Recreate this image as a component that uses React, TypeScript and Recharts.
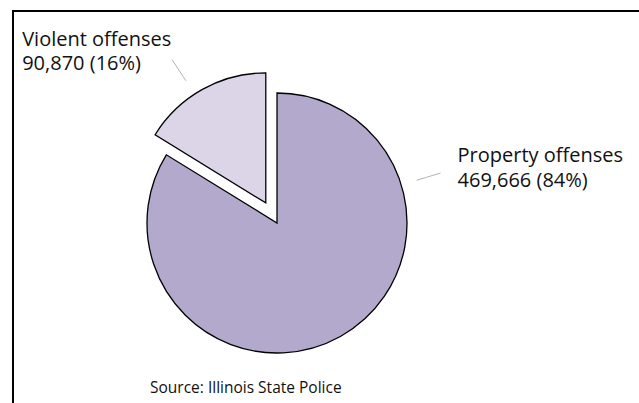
import React from 'react';
import { PieChart, Pie, Sector } from 'recharts';

const categories = ['Violent offenses', 'Property offenses'];
const offenseCounts = [90870, 469666];
const sliceColors = ['#dcd5e7', '#b3a9cc'];

const chartData = categories.map((name, i) => ({
  name,
  value: offenseCounts[i],
  fill: sliceColors[i],
  exploded: i === 0
}));

const RAD = Math.PI / 180;
const EXPLODE = 23;
const FONT = '"Open Sans", "Noto Sans", sans-serif';

const renderSlice = (props: any) => {
  const { cx, cy, midAngle, payload } = props;
  const off = payload && payload.exploded ? EXPLODE : 0;
  return (
    <Sector
      {...props}
      cx={cx + off * Math.cos(-midAngle * RAD)}
      cy={cy + off * Math.sin(-midAngle * RAD)}
      stroke="#000"
      strokeWidth={1.3}
    />
  );
};

const renderLabel = (props: any) => {
  const { cx, cy, midAngle, outerRadius, payload, percent, value, name } = props;
  const exploded = payload && payload.exploded;
  const off = exploded ? EXPLODE : 0;
  const ox = cx + off * Math.cos(-midAngle * RAD);
  const oy = cy + off * Math.sin(-midAngle * RAD);
  // property label sits up to the right instead of at its mid angle
  const ang = exploded ? midAngle + 4 : 17;
  const x1 = ox + (outerRadius + 16) * Math.cos(-ang * RAD);
  const y1 = oy + (outerRadius + 16) * Math.sin(-ang * RAD);
  const x2 = ox + (outerRadius + 41) * Math.cos(-ang * RAD);
  const y2 = oy + (outerRadius + 41) * Math.sin(-ang * RAD);
  const tx = exploded ? x2 - 150 : x2 + 17;
  const ty = exploded ? y2 - 14 : y2 - 11;
  const line2 = `${value.toLocaleString('en-US')} (${Math.round(percent * 100)}%)`;
  return (
    <g>
      <line x1={x1} y1={y1} x2={x2} y2={y2} stroke="#a0a0a0" strokeWidth={0.8} />
      <text x={tx} y={ty} fontSize={20} fontFamily={FONT} fill="#111" textAnchor="start">
        <tspan x={tx} dy={0}>{name}</tspan>
        <tspan x={tx} dy={24.5}>{line2}</tspan>
      </text>
    </g>
  );
};

const App: React.FC = () => {
  return (
    <div style={{ position: 'absolute', left: 0, top: 0, width: 639, height: 403, background: '#fff' }}>
      <div
        style={{
          position: 'absolute',
          left: 12,
          top: 10,
          right: 0,
          bottom: 0,
          borderTop: '2px solid #000',
          borderLeft: '2px solid #000'
        }}
      />
      <PieChart width={639} height={403} style={{ position: 'absolute', left: 0, top: 0 }}>
        <Pie
          data={chartData}
          dataKey="value"
          nameKey="name"
          cx={272}
          cy={218}
          outerRadius={130}
          startAngle={90}
          endAngle={450}
          shape={renderSlice}
          label={renderLabel}
          labelLine={false}
          isAnimationActive={false}
        />
      </PieChart>
      <div
        style={{
          position: 'absolute',
          left: 150,
          top: 376,
          fontFamily: FONT,
          fontSize: 15.5,
          color: '#111',
          whiteSpace: 'nowrap'
        }}
      >
        Source: Illinois State Police
      </div>
    </div>
  );
};

export default App;
